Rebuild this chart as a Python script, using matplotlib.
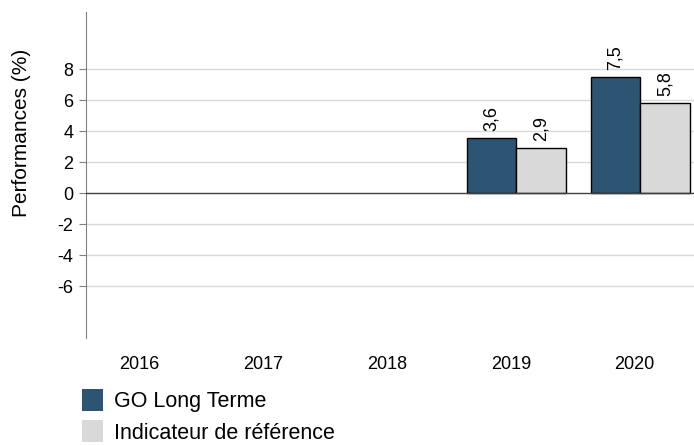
import numpy as np
import matplotlib.pyplot as plt
from matplotlib.patches import Patch

plt.rcParams['font.family'] = ['Liberation Sans', 'DejaVu Sans']

# Data
years = ['2016', '2017', '2018', '2019', '2020']
fund = [np.nan, np.nan, np.nan, 3.6, 7.5]
benchmark = [np.nan, np.nan, np.nan, 2.9, 5.8]
series_names = ['GO Long Terme', 'Indicateur de référence']
yticks = [-6, -4, -2, 0, 2, 4, 6, 8]

dark = '#2c5574'
light = '#d9d9d9'

fig = plt.figure(figsize=(6.94, 4.45), dpi=100)
fig.patch.set_facecolor('white')
ax = fig.add_axes([0.124, 0.240, 0.876, 0.733])

x = np.arange(len(years))
w = 0.4
off = 0.045
b1 = ax.bar(x + off - w / 2, fund, w, color=dark, edgecolor='black', lw=1, zorder=3)
b2 = ax.bar(x + off + w / 2, benchmark, w, color=light, edgecolor='black', lw=1, zorder=3)

# Value labels above bars, rotated, French decimal comma
for bars, vals in ((b1, fund), (b2, benchmark)):
    for rect, v in zip(bars, vals):
        if np.isnan(v):
            continue
        ax.text(rect.get_x() + rect.get_width() / 2, v + 0.45,
                f'{v:.1f}'.replace('.', ','), rotation=90,
                ha='center', va='bottom', fontsize=13)

ax.set_xlim(-0.43, 4.48)
ax.set_ylim(-9.35, 11.7)
ax.set_yticks(yticks)
ax.set_yticklabels([str(t) for t in yticks], fontsize=13)
ax.set_xticks(x)
ax.set_xticklabels(years, fontsize=13)
ax.tick_params(axis='x', length=0, pad=13)
ax.tick_params(axis='y', length=5, color='#808080', pad=4)

for t in yticks:
    if t == 0:
        ax.axhline(0, color='#404040', lw=1, zorder=4)
    else:
        ax.axhline(t, color='#d9d9d9', lw=1, zorder=1)

for s in ('top', 'right', 'bottom'):
    ax.spines[s].set_visible(False)
ax.spines['left'].set_color('#808080')

ax.set_ylabel('Performances (%)', fontsize=15)
ax.yaxis.set_label_coords(-0.09, 0.63)

handles = [Patch(facecolor=dark, edgecolor='none'),
           Patch(facecolor=light, edgecolor='none')]
fig.legend(handles, series_names, loc='upper left',
           bbox_to_anchor=(0.118, 0.126), frameon=False, fontsize=15.5,
           handlelength=1.0, handleheight=1.2, labelspacing=0.38,
           handletextpad=0.47, borderpad=0, borderaxespad=0)

fig.savefig('out.png', dpi=100)
